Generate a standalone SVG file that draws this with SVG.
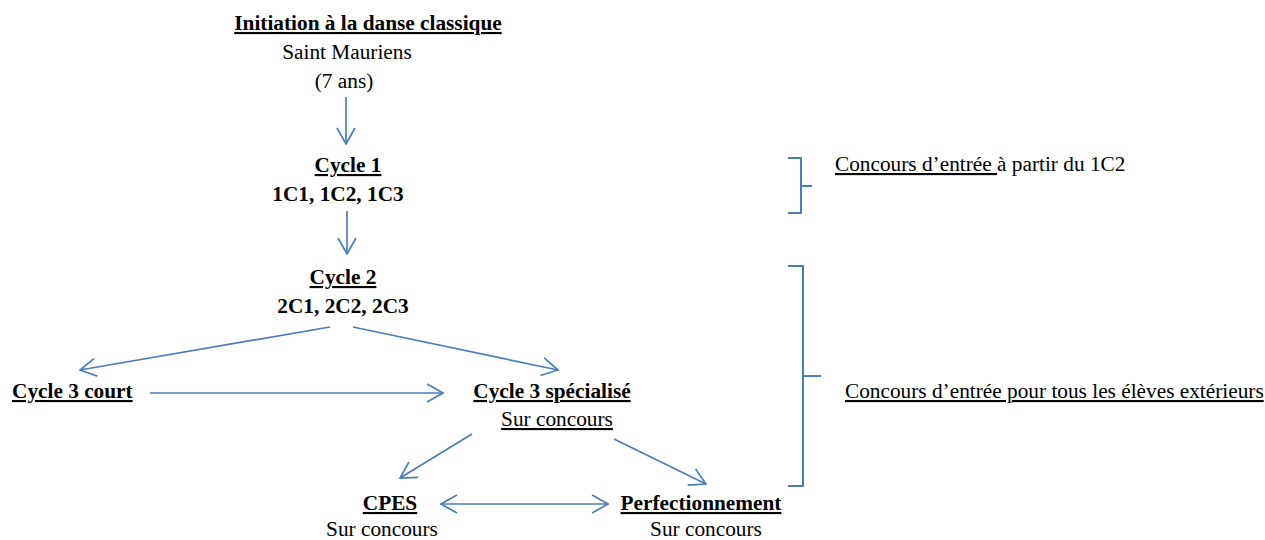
<svg xmlns="http://www.w3.org/2000/svg" width="1265" height="540" viewBox="0 0 1265 540">
<style>
text{font-family:"Liberation Serif","Times New Roman",serif;font-size:21.3px;fill:#000}
.b{font-weight:bold}
.u{text-decoration:underline}
.c{text-anchor:middle}
.conn line,.conn path{stroke:#4a7ebb;stroke-width:1.7;fill:none}
.brace{stroke:#4a7ebb;stroke-width:2;fill:none;stroke-linejoin:round}
</style>
<defs>
<marker id="ah" viewBox="0 0 18 20" refX="17" refY="10" markerWidth="18" markerHeight="20" markerUnits="userSpaceOnUse" orient="auto-start-reverse">
<path d="M1,1 L17,10 L1,19" fill="none" stroke="#4a7ebb" stroke-width="1.7"/>
</marker>
</defs>
<g id="initiation">
<text class="b u c" x="368" y="30">Initiation à la danse classique</text>
<text class="c" x="347" y="59">Saint Mauriens</text>
<text class="c" x="344" y="88">(7 ans)</text>
</g>
<g id="cycle1">
<text class="b u c" x="348" y="172">Cycle 1</text>
<text class="b c" x="338" y="201">1C1, 1C2, 1C3</text>
</g>
<g id="cycle2">
<text class="b u c" x="343" y="284">Cycle 2</text>
<text class="b c" x="343" y="313">2C1, 2C2, 2C3</text>
</g>
<g id="cycle3court">
<text class="b u" x="12" y="398">Cycle 3 court</text>
</g>
<g id="cycle3spec">
<text class="b u c" x="552" y="398">Cycle 3 spécialisé</text>
<text class="u c" x="557" y="426">Sur concours</text>
</g>
<g id="cpes">
<text class="b u c" x="390" y="510">CPES</text>
<text class="c" x="382" y="536">Sur concours</text>
</g>
<g id="perfectionnement">
<text class="b u c" x="701" y="510">Perfectionnement</text>
<text class="c" x="706" y="536">Sur concours</text>
</g>
<g id="note1">
<path class="brace" d="M788,158 L801,158 L801,186 L812,186 M801,186 L801,213 L788,213"/>
<text x="835" y="171"><tspan class="u">Concours d’entrée </tspan>à partir du 1C2</text>
</g>
<g id="note2">
<path class="brace" d="M788,266 L803,266 L803,376 L821,376 M803,376 L803,486 L788,486"/>
<text class="u" x="845" y="398">Concours d’entrée pour tous les élèves extérieurs</text>
</g>
<g class="conn" id="connectors">
<line x1="346" y1="97" x2="346" y2="144" marker-end="url(#ah)"/>
<line x1="347" y1="211" x2="347" y2="254" marker-end="url(#ah)"/>
<line x1="330" y1="327" x2="80" y2="370" marker-end="url(#ah)"/>
<line x1="353" y1="327" x2="558" y2="370" marker-end="url(#ah)"/>
<line x1="150" y1="393" x2="443" y2="393" marker-end="url(#ah)"/>
<line x1="472" y1="434" x2="400" y2="478" marker-end="url(#ah)"/>
<line x1="614" y1="439" x2="706" y2="484" marker-end="url(#ah)"/>
<line x1="441" y1="504" x2="608" y2="504" marker-start="url(#ah)" marker-end="url(#ah)"/>
</g>
</svg>
